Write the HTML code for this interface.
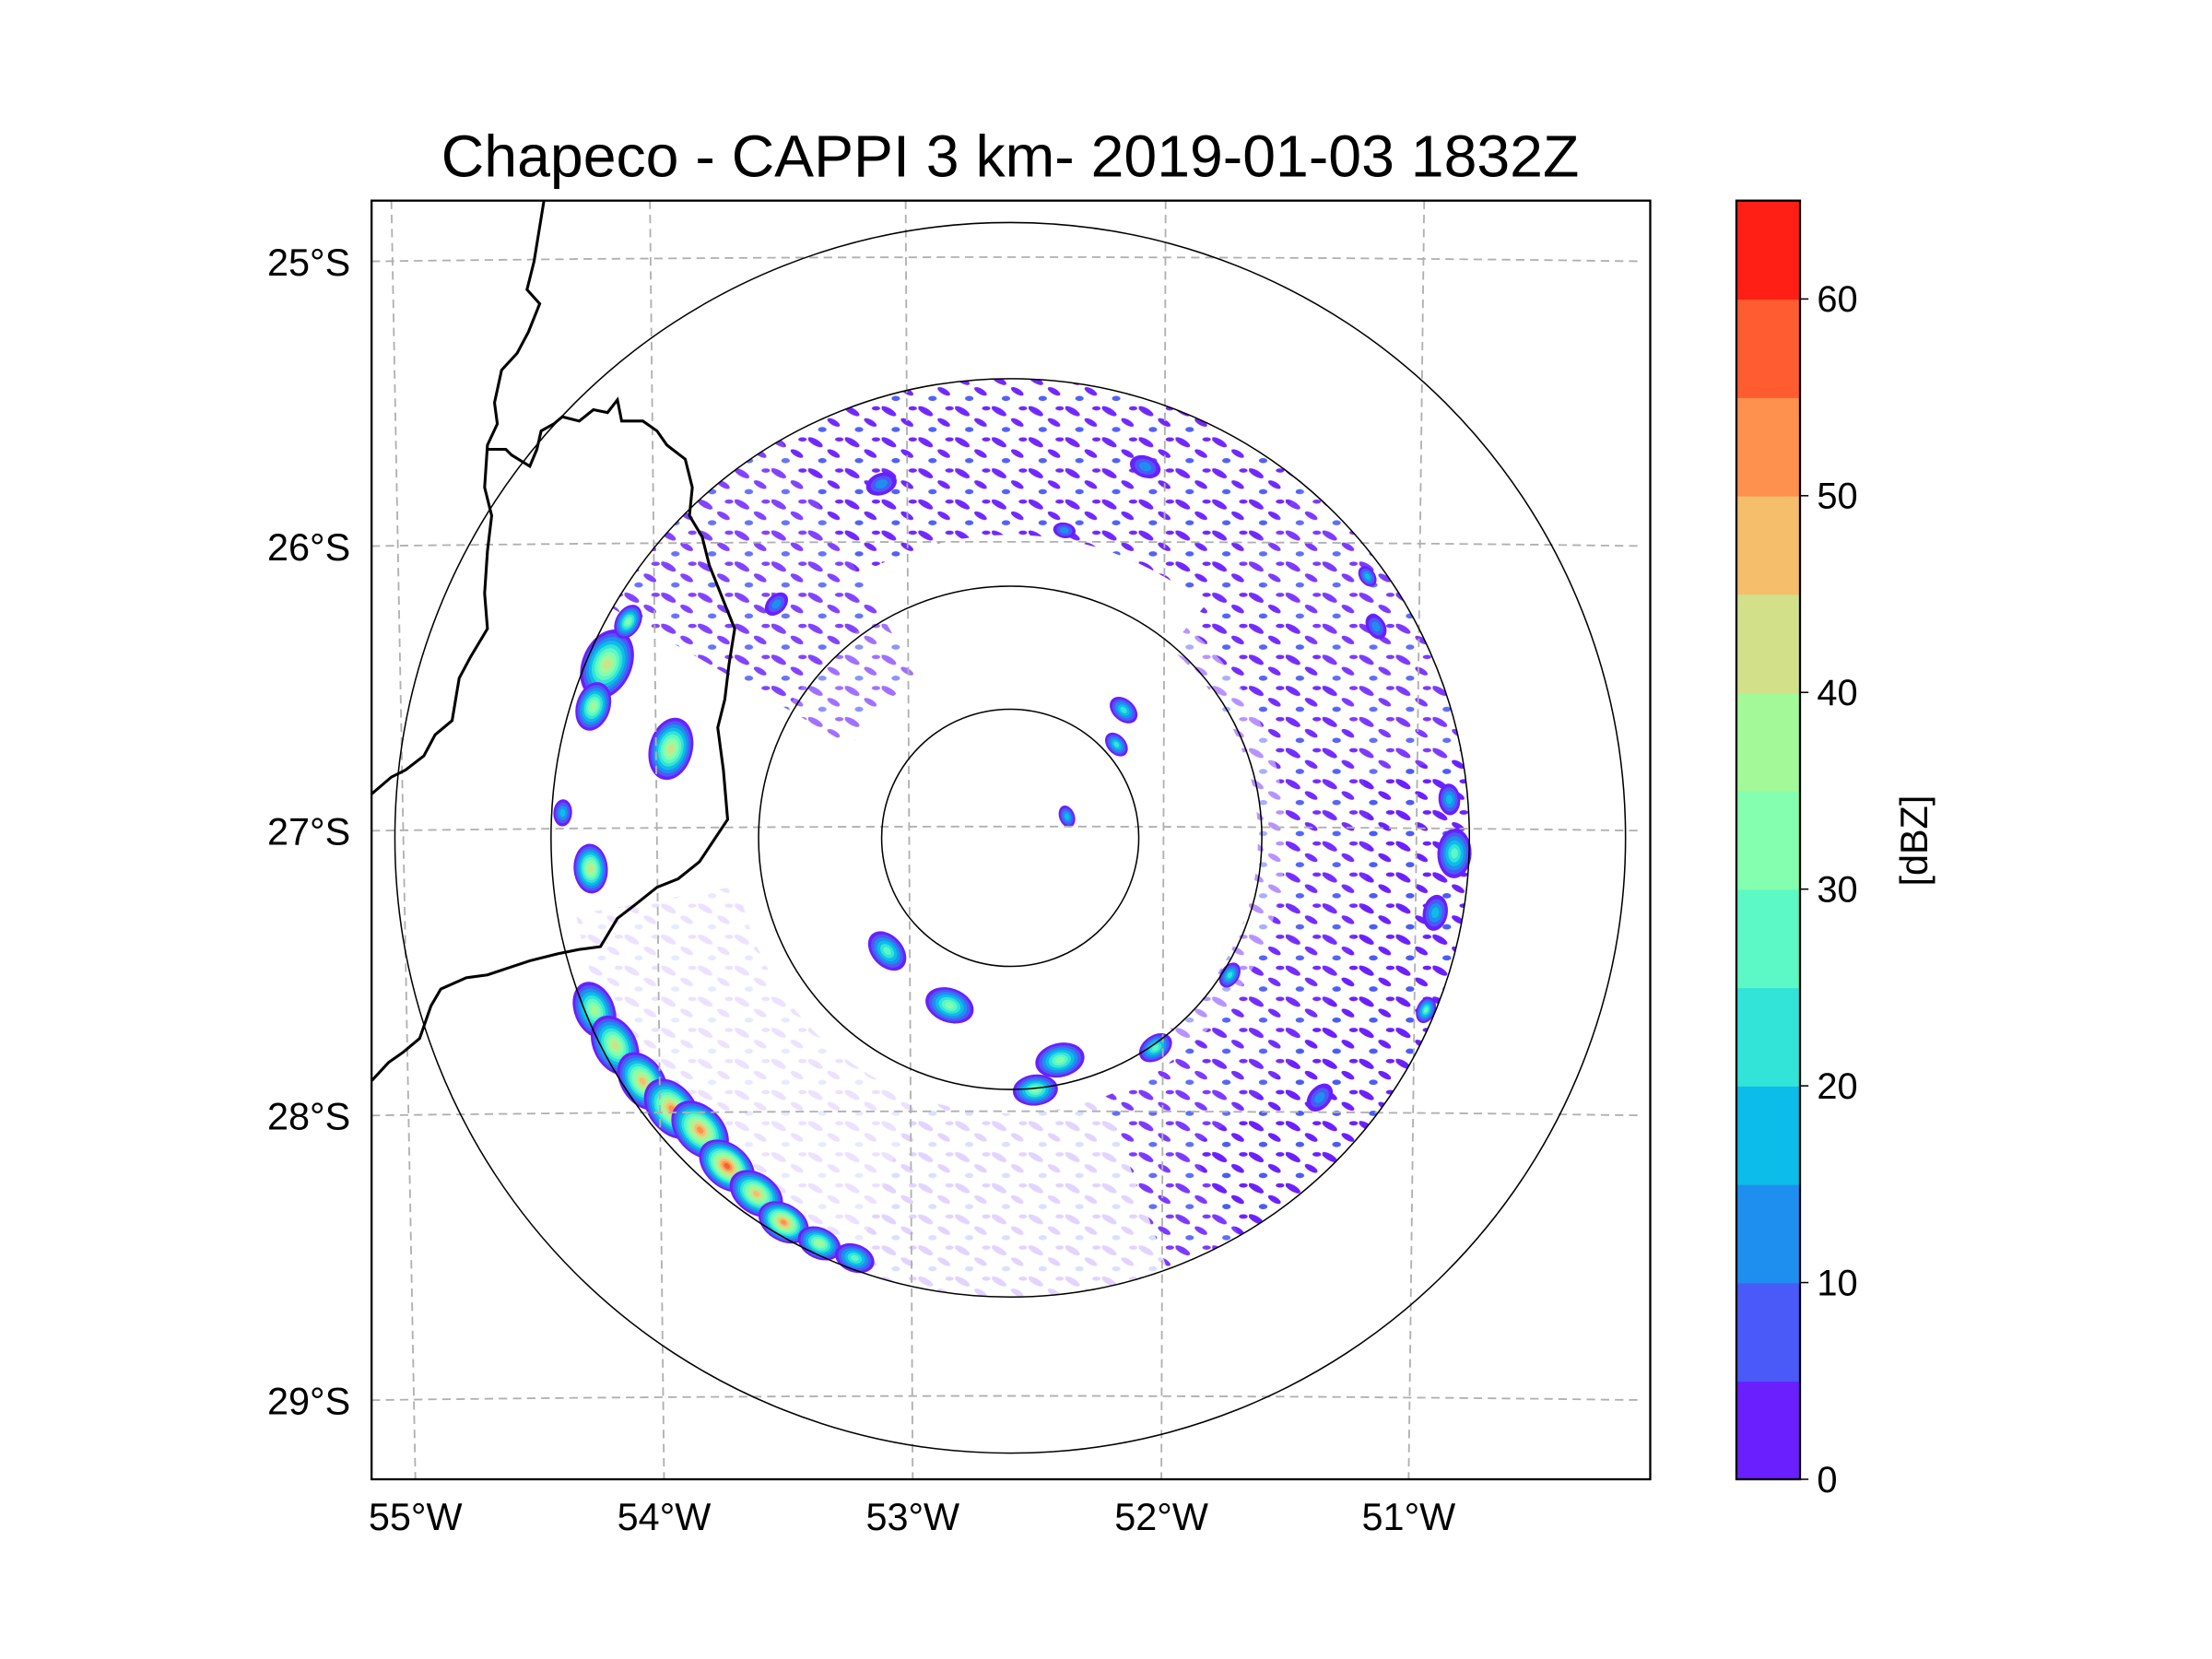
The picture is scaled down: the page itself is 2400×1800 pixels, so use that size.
<!DOCTYPE html>
<html><head><meta charset="utf-8"><style>
html,body{margin:0;padding:0;background:#fff;}
svg{display:block;font-family:"Liberation Sans","DejaVu Sans",sans-serif;}
</style></head><body>
<svg id="fig" width="2400" height="1800" viewBox="0 0 1565.6 1174.2" preserveAspectRatio="none" xmlns="http://www.w3.org/2000/svg">
<defs>
<clipPath id="axclip"><rect x="263" y="142" width="905" height="905"/></clipPath>
<pattern id="speck" width="26" height="22" patternUnits="userSpaceOnUse">
<ellipse cx="5" cy="5" rx="6" ry="2.2" transform="rotate(30 5 5)" fill="#6a1fff"/>
<ellipse cx="18" cy="13" rx="5" ry="2" transform="rotate(30 18 13)" fill="#6a1fff"/>
<ellipse cx="10" cy="18" rx="3" ry="1.8" fill="#4a5af8"/>
<ellipse cx="22" cy="3" rx="3" ry="1.5" fill="#6a1fff"/>
</pattern>
</defs>
<text x="715" y="125" font-size="42" text-anchor="middle">Chapeco - CAPPI 3 km- 2019-01-03 1832Z</text>
<g id="plot" clip-path="url(#axclip)"></g>
<rect x="263" y="142" width="905" height="905" fill="none" stroke="#000" stroke-width="1.5"/>
<g id="labels"></g>
<g id="cbar"></g>
</svg>
<script>
// ---------- data ----------
const levels = [0,5,10,15,20,25,30,35,40,45,50,55,60];
const levelColors = ["#6a1fff","#4a5af8","#1f8fef","#0bbde8","#32e3d8","#5cf8c6","#84feaf","#a3f898","#d2e08a","#f5be6b","#fe914d","#ff5c32","#ff1f14"];
const cbarTicks = [0,10,20,30,40,50,60];
const lonTicks = [-55,-54,-53,-52,-51];
const latTicks = [-25,-26,-27,-28,-29];
const ringKm = [70,137,250,335];
// echo coverage sectors (azimuth deg from north, range km, fractional coverage)
const sectorAz0 = [-30,40,80,300,40,160,200,-60];
const sectorAz1 = [40,160,150,330,140,200,260,-30];
const sectorR0  = [165,150,195,100,135,150,150,140];
const sectorR1  = [250,250,250,250,195,250,240,250];
const sectorCov = [0.6,0.55,0.6,0.4,0.3,0.12,0.08,0.35];
// convective cells
const cellAz    = [247.5,242.3,236.5,231.3,226.7,220.8,215.5,210.5,205.2,200.3,293.3,287.5,284.7,265.8,273.2,227.4,199.9,167.4,174.3,145.3,41.6,48.7,69.4,122,92,112.5,53.8,299.5,85,100,130,60,20,340,10,315];
const cellRange = [245,243,240,236,232,236,238,243,244,244,239,238,191,229,244,91,97,124,138,139,93,77,33,141,242,245,241,239,240,235,220,230,215,205,170,180];
const cellSize  = [13,14,14,15,15,14,13,12,10,9,16,11,14,11,6,10,11,11,10,8,7,6,5,6,11,6,5,8,7,8,7,6,7,7,5,6];
const cellDbz   = [35,40,45,50,50,55,45,50,35,25,40,35,40,40,15,25,30,30,30,25,20,20,15,20,25,25,15,30,15,15,10,10,10,10,10,10];
// ---------- axes ----------
const cx = 715, cy = 593, pxPerKm = 1.3;
function polar(az, km){ const r = km*pxPerKm, a = az*Math.PI/180; return [cx + r*Math.sin(a), cy - r*Math.cos(a)]; }
function lonX(lon, y){ const t=(y-142)/905; const top=[277,460,641,825,1008], bot=[294,470,646,822,997]; const i=lonTicks.indexOf(lon); return top[i]+(bot[i]-top[i])*t; }
function latY(lat, x){ const base = 185 + (-25 - lat)*201.5; const d=(x-715)/452; return base - 3*(1-d*d); }
const NS="http://www.w3.org/2000/svg";
function el(tag, attrs, parent){ const e=document.createElementNS(NS,tag); for(const k in attrs) e.setAttribute(k,attrs[k]); parent.appendChild(e); return e; }
const plot=document.getElementById('plot'), labels=document.getElementById('labels'), cbar=document.getElementById('cbar');
function colorFor(v){ let i=Math.floor(v/5); if(i<0)i=0; if(i>12)i=12; return levelColors[i]; }

for(let i=0;i<sectorAz0.length;i++){
  const n=24, pts=[];
  for(let k=0;k<=n;k++) pts.push(polar(sectorAz0[i]+(sectorAz1[i]-sectorAz0[i])*k/n, sectorR1[i]));
  for(let k=n;k>=0;k--) pts.push(polar(sectorAz0[i]+(sectorAz1[i]-sectorAz0[i])*k/n, sectorR0[i]));
  const p=el('path',{d:'M'+pts.map(q=>q[0].toFixed(1)+','+q[1].toFixed(1)).join('L')+'Z',fill:'url(#speck)',opacity:Math.min(1,sectorCov[i]*1.6)},plot);
  
  
}
for(let i=0;i<cellAz.length;i++){
  const [x,y]=polar(cellAz[i],cellRange[i]);
  const g=el('g',{},plot);
  
  
  const steps=Math.floor(cellDbz[i]/5);
  for(let s=0;s<=steps;s++){
    const f=1-s/(steps+1.3);
    el('ellipse',{cx:x,cy:y,rx:cellSize[i]*f*1.1,ry:cellSize[i]*f*1.6,fill:colorFor(s*5),transform:`rotate(${cellAz[i]+90} ${x} ${y})`},g);
  }
}
const grid=el('g',{stroke:'#b0b0b0','stroke-width':1.2,'stroke-dasharray':'6,4',fill:'none'},plot);


lonTicks.forEach(lon=>{ el('line',{x1:lonX(lon,142),y1:142,x2:lonX(lon,1047),y2:1047},grid); });
latTicks.forEach(lat=>{ let d=''; for(let x=263;x<=1168;x+=15) d+=(x===263?'M':'L')+x+','+latY(lat,x).toFixed(1); el('path',{d:d},grid); });
ringKm.forEach(km=>{ const c=el('circle',{cx:cx,cy:cy,r:km*pxPerKm,fill:'none',stroke:'#000','stroke-width':1},plot);
  
   });
const b1="M385,142 L378,185 L373,205 L382,215 L374,235 L366,250 L355,262 L350,285 L352,300 L345,315 L343,345 L348,365 L345,390 L343,420 L345,445 L333,465 L325,480 L320,510 L308,520 L300,535 L287,545 L277,550 L263,562";
const b2="M345,318 L358,318 L362,322 L375,330 L380,318 L383,305 L392,300 L398,295 L410,298 L420,290 L430,292 L437,283 L440,298 L455,298 L465,305 L472,315 L485,325 L490,345 L488,365 L497,380 L502,400 L512,425 L520,445 L516,470 L513,495 L508,515 L512,545 L515,580 L505,595 L495,610 L480,622 L465,628 L450,640 L437,650 L425,670 L410,672 L395,675 L375,680 L360,685 L345,690 L330,692 L312,700 L305,712 L297,735 L285,745 L275,752 L263,765";
[b1,b2].forEach(d=>{ const p=el('path',{d:d,fill:'none',stroke:'#000','stroke-width':2},plot);
  
   });
lonTicks.forEach(lon=>{ const t=el('text',{x:lonX(lon,1047),y:1083,'font-size':27,'text-anchor':'middle'},labels); t.textContent=(-lon)+'°W';
  
   });
latTicks.forEach(lat=>{ const t=el('text',{x:248,y:latY(lat,263)+10,'font-size':27,'text-anchor':'end'},labels); t.textContent=(-lat)+'°S';
  
   });
const cbX=1229, cbW=45, cbTop=142, cbBot=1047, vmax=65;
function cbY(v){ return cbBot-(v/vmax)*(cbBot-cbTop); }
levels.forEach((v,i)=>{ const r=el('rect',{x:cbX,y:cbY(v+5),width:cbW,height:cbY(v)-cbY(v+5)+0.5,fill:levelColors[i]},cbar);
  
   });
const frame=el('rect',{x:cbX,y:cbTop,width:cbW,height:cbBot-cbTop,fill:'none',stroke:'#000','stroke-width':1.5},cbar);


cbarTicks.forEach(v=>{ el('line',{x1:cbX+cbW,y1:cbY(v),x2:cbX+cbW+6,y2:cbY(v),stroke:'#000','stroke-width':1},cbar);
  const t=el('text',{x:cbX+cbW+12,y:cbY(v)+9,'font-size':26},cbar); t.textContent=v;
  
   });
const cl=el('text',{x:1364,y:595,'font-size':27,'text-anchor':'middle',transform:'rotate(-90 1364 595)'},cbar);
cl.textContent='[dBZ]';


</script>
</body></html>
